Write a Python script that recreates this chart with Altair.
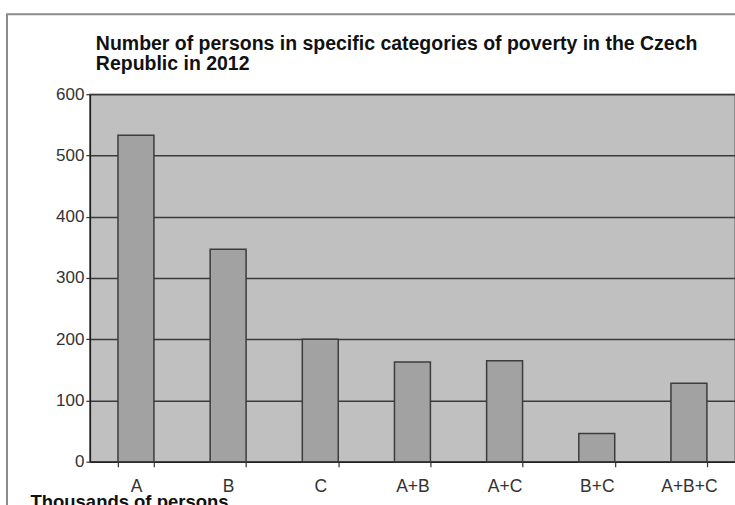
import altair as alt
import pandas as pd

# Poverty categories and number of persons (thousands), Czech Republic 2012
categories = ["A", "B", "C", "A+B", "A+C", "B+C", "A+B+C"]
persons = [533, 347, 200, 163, 165, 46, 128]
y_ticks = [0, 100, 200, 300, 400, 500, 600]
title_lines = ["Number of persons in specific categories of poverty in the Czech",
               "Republic in 2012"]

df = pd.DataFrame({"category": categories, "persons": persons})

FONT = "Liberation Sans"

bars = alt.Chart(df).mark_bar(
    color="#a2a2a2", stroke="#3c3c3c", strokeWidth=1.5
).encode(
    x=alt.X(
        "category:N",
        sort=categories,
        scale=alt.Scale(paddingInner=0.61, paddingOuter=0.305),
        axis=alt.Axis(
            title="Thousands of persons",
            titleFont=FONT,
            titleFontSize=18.5,
            titleFontWeight="bold",
            titleColor="#111111",
            titleAnchor="start",
            titleAlign="left",
            titleBaseline="alphabetic",
            titleX=-60,
            titleY=46,
            labelAngle=0,
            labelFont=FONT,
            labelFontSize=17.5,
            labelColor="#333333",
            labelPadding=11,
            tickBand="extent",
            tickSize=5,
            tickColor="#333333",
            tickWidth=1.2,
            domainColor="#222222",
            domainWidth=1.5,
            grid=False,
        ),
    ),
    y=alt.Y(
        "persons:Q",
        scale=alt.Scale(domain=[0, 600], nice=False),
        axis=alt.Axis(
            title=None,
            values=y_ticks,
            labelFont=FONT,
            labelFontSize=17,
            labelColor="#333333",
            labelPadding=2,
            tickSize=4,
            tickColor="#333333",
            tickWidth=1.2,
            domainColor="#222222",
            domainWidth=1.5,
            grid=True,
            gridColor="#3a3a3a",
            gridWidth=1.5,
        ),
    ),
)

# Light grey frame around the whole chart
frame = alt.Chart(pd.DataFrame({"k": [0]})).mark_rect(
    fill="transparent", stroke="#8c8c8c", strokeWidth=2
).encode(
    x=alt.value(-83), x2=alt.value(900), y=alt.value(-80), y2=alt.value(600)
)

# Two-line heading above the plot area
heading = alt.Chart(pd.DataFrame({"t": ["\n".join(title_lines)]})).mark_text(
    font=FONT,
    fontSize=19.5,
    fontWeight="bold",
    color="#111111",
    align="left",
    baseline="alphabetic",
    lineBreak="\n",
    lineHeight=20,
).encode(x=alt.value(6), y=alt.value(-44), text="t:N")

chart = alt.layer(frame, bars, heading).properties(
    width=646,
    height=368,
    autosize="none",
    background="white",
    padding={"left": 90, "top": 94, "right": 0, "bottom": 60},
).configure_view(
    fill="#c0c0c0", stroke="#808080", strokeWidth=1.5
)

chart.save("out.html", embed_options={"renderer": "svg", "actions": False})
